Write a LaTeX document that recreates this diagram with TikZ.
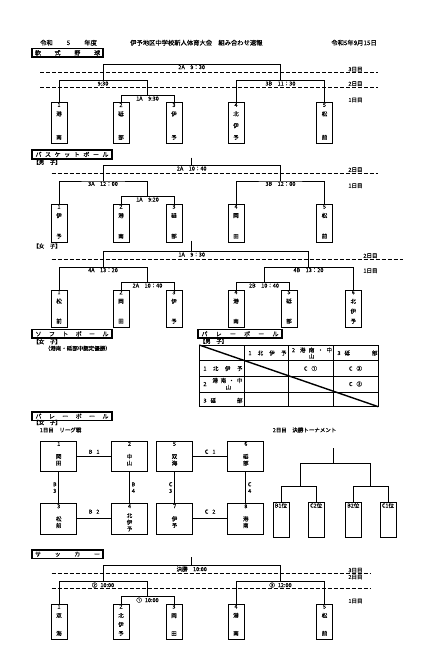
\documentclass[tikz,border=0pt]{standalone}
\usepackage{fontspec}
\setmainfont{Noto Sans CJK JP}[FakeBold=0.4]
\usepackage{tikz}
\usetikzlibrary{positioning}

\newcommand{\colgap}{\par\vfill}
\newcommand{\teamtext}[3]{\parbox[c][#1][t]{14pt}{\centering\vspace*{0.3pt}#2\par\vspace{2.4pt}#3\par\vspace{3.4pt}}}
\newcommand{\leaguetext}[3]{\parbox[c][#1][t]{32pt}{\centering\vspace*{0.8pt}#2\par\vfill #3\par\vfill}}
\newcommand{\spread}[2]{\makebox[#1][s]{#2}}

\tikzset{
  txt/.style={font=\fontsize{5.5}{6.6}\selectfont, inner sep=0.6pt},
  head/.style={font=\fontsize{6.3}{7}\selectfont, inner sep=0pt},
  titlebox/.style={draw, line width=1.5pt, inner sep=0pt, minimum height=8.6pt, font=\fontsize{6}{7}\selectfont},
  teambox/.style={draw, line width=1pt, minimum width=16pt, inner sep=0pt, font=\fontsize{5.5}{6.6}\selectfont},
  leaguebox/.style={draw, line width=1pt, minimum width=36pt, inner sep=0pt, font=\fontsize{5.5}{6.6}\selectfont},
  bracket/.style={line width=1pt},
  dayline/.style={line width=0.9pt, dash pattern=on 4pt off 2pt},
  tablegrid/.style={line width=0.9pt},
}

\begin{document}
\begin{tikzpicture}[x=1pt, y=-1pt]
\useasboundingbox (0,0) rectangle (423,656);

% header
\node[head, anchor=west] (year) at (40,42.7) {令和\hspace{14pt}5\hspace{14pt}年度};
\node[head, anchor=west] (meet) at (130,42.7) {伊予地区中学校新人体育大会　組み合わせ速報};
\node[head, anchor=east] (date) at (377,42.7) {令和5年9月15日};

% baseball
\node[titlebox, minimum width=71pt] (baseball) at (67.5,52.8) {\spread{65pt}{軟\hfill 式\hfill 野\hfill 球}};
\node[teambox] (y1) at (59,123) {\teamtext{40.6pt}{1}{港\colgap 南}};
\node[teambox] (y2) at (121,123) {\teamtext{40.6pt}{2}{砥\colgap 部}};
\node[teambox] (y3) at (174,123) {\teamtext{40.6pt}{3}{伊\colgap 予}};
\node[teambox] (y4) at (236,123) {\teamtext{40.6pt}{4}{北\colgap 伊\colgap 予}};
\node[teambox] (y5) at (324.5,123) {\teamtext{40.6pt}{5}{松\colgap 前}};
\coordinate (y1A) at (147.5,95.7);
\coordinate (y2L) at (103,80.7);
\coordinate (y2R) at (280.5,80.7);
\coordinate (yF) at (191.7,64.3);
\draw[bracket] (y2.north) |- (y1A) -| (y3.north);
\draw[bracket] (y1.north) |- (y2L) -| (y1A);
\draw[bracket] (y4.north) |- (y2R) -| (y5.north);
\draw[bracket] (y2L) |- (yF) -| (y2R);
\node[txt, below=0pt of yF] (yFt) {2A\quad 9：30};
\node[txt, below=0pt of y2L] (y2Lt) {9:30};
\node[txt, below=0pt of y1A] (y1At) {1A\quad 9:30};
\node[txt, below=0pt of y2R] (y2Rt) {3B\quad 11：30};
\draw[dayline] (40,72.3) -- (378,72.3);
\draw[dayline] (40,87.3) -- (378,87.3);
\node[txt] (yday3) at (355.5,69.3) {3日目};
\node[txt] (yday2) at (355.5,83.8) {2日目};
\node[txt] (yday1) at (355.5,100) {1日目};

% basketball, boys
\node[titlebox, minimum width=80pt] (basket) at (72,154.5) {\spread{73pt}{バ\hfill ス\hfill ケ\hfill ッ\hfill ト\hfill ボ\hfill ー\hfill ル}};
\node[txt, anchor=west] (bboys) at (32.5,162.3) {【男　子】};
\node[teambox] (b1) at (59,223.2) {\teamtext{37.7pt}{1}{伊\colgap 予}};
\node[teambox] (b2) at (121,223.2) {\teamtext{37.7pt}{2}{港\colgap 南}};
\node[teambox] (b3) at (174,223.2) {\teamtext{37.7pt}{3}{砥\colgap 部}};
\node[teambox] (b4) at (236,223.2) {\teamtext{37.7pt}{4}{岡\colgap 田}};
\node[teambox] (b5) at (324.5,223.2) {\teamtext{37.7pt}{5}{松\colgap 前}};
\coordinate (b1A) at (147.5,196.7);
\coordinate (b2L) at (103,181);
\coordinate (b2R) at (280.5,181);
\coordinate (bF) at (191.7,165.7);
\coordinate (bTop) at (191.7,157.7);
\draw[bracket] (b2.north) |- (b1A) -| (b3.north);
\draw[bracket] (b1.north) |- (b2L) -| (b1A);
\draw[bracket] (b4.north) |- (b2R) -| (b5.north);
\draw[bracket] (b2L) |- (bF) -| (b2R);
\draw[bracket] (bTop) -- (bF);
\node[txt, below=0pt of bF] (bFt) {2A\quad 10：40};
\node[txt, below=0pt of b2L] (b2Lt) {3A\quad 12：00};
\node[txt, below=0pt of b1A] (b1At) {1A\quad 9:20};
\node[txt, below=0pt of b2R] (b2Rt) {3B\quad 12：00};
\draw[dayline] (51.7,173.3) -- (378,173.3);
\node[txt] (bday2) at (355.5,169.8) {2日目};
\node[txt] (bday1) at (355.5,185.7) {1日目};

% basketball, girls
\node[txt, anchor=west] (bgirls) at (32.5,246) {【女　子】};
\node[teambox] (g1) at (59,308.5) {\teamtext{37pt}{1}{松\colgap 前}};
\node[teambox] (g2) at (121,308.5) {\teamtext{37pt}{2}{岡\colgap 田}};
\node[teambox] (g3) at (174,308.5) {\teamtext{37pt}{3}{伊\colgap 予}};
\node[teambox] (g4) at (236,308.5) {\teamtext{37pt}{4}{港\colgap 南}};
\node[teambox] (g5) at (289,308.5) {\teamtext{37pt}{5}{砥\colgap 部}};
\node[teambox] (g6) at (353.3,308.5) {\teamtext{37pt}{6}{北\colgap 伊\colgap 予}};
\coordinate (g1A) at (147.5,282.7);
\coordinate (g1B) at (264,282.7);
\coordinate (g2L) at (103,267.3);
\coordinate (g2R) at (308.5,267.3);
\coordinate (gF) at (191.7,251.7);
\coordinate (gTop) at (191.7,240.5);
\draw[bracket] (g2.north) |- (g1A) -| (g3.north);
\draw[bracket] (g4.north) |- (g1B) -| (g5.north);
\draw[bracket] (g1.north) |- (g2L) -| (g1A);
\draw[bracket] (g1B) |- (g2R) -| (g6.north);
\draw[bracket] (g2L) |- (gF) -| (g2R);
\draw[bracket] (gTop) -- (gF);
\node[txt, below=0pt of gF] (gFt) {1A\quad 9：30};
\node[txt, below=0pt of g2L] (g2Lt) {4A\quad 13：20};
\node[txt, below=0pt of g2R] (g2Rt) {4B\quad 13：20};
\node[txt, below=0pt of g1A] (g1At) {2A\quad 10：40};
\node[txt, below=0pt of g1B] (g1Bt) {2B\quad 10：40};
\draw[dayline] (51.7,259.3) -- (403,259.3);
\node[txt] (gday2) at (370.5,255.8) {2日目};
\node[txt] (gday1) at (370.5,270.7) {1日目};

% softball
\node[titlebox, minimum width=80pt] (softball) at (72,333.9) {\spread{73pt}{ソ\hfill フ\hfill ト\hfill ボ\hfill ー\hfill ル}};
\node[txt, anchor=west] (sgirls) at (32.5,341.7) {【女　子】};
\node[txt, anchor=west] (snote) at (44,348.3) {（港南・砥部中認定優勝）};

% volleyball, boys
\node[titlebox, minimum width=84pt] (volleyb) at (240,333.9) {\spread{77pt}{バ\hfill レ\hfill ー\hfill ボ\hfill ー\hfill ル}};
\node[txt, anchor=west] (vboys) at (199,341.3) {【男　子】};
\coordinate (tl) at (199.3,345);
\coordinate (br) at (378.3,406.7);
\draw[tablegrid] (tl) rectangle (br);
\draw[tablegrid] (244.3,345) -- (244.3,406.7);
\draw[tablegrid] (288.3,345) -- (288.3,406.7);
\draw[tablegrid] (333.5,345) -- (333.5,406.7);
\draw[tablegrid] (199.3,360.7) -- (378.3,360.7);
\draw[tablegrid] (199.3,376.7) -- (378.3,376.7);
\draw[tablegrid] (199.3,392.5) -- (378.3,392.5);
\draw[line width=1.4pt] (tl) -- (br);
\node[txt] (h1) at (267.5,353) {\spread{38pt}{1\hfill 北\hfill 伊\hfill 予}};
\node[txt] (h2) at (312,350) {\spread{40pt}{2\hspace{5pt}港\hfill 南\hfill ・\hfill 中}};
\node[txt] (h2b) at (311.7,356.3) {山};
\node[txt] (h3) at (357.5,353) {\spread{40pt}{3\hspace{4pt}砥\hfill 部}};
\node[txt] (r1) at (223,368.5) {\spread{39pt}{1\hfill 北\hfill 伊\hfill 予}};
\node[txt] (r2n) at (205,384) {2};
\node[txt] (r2) at (227.5,380.5) {\spread{30pt}{港\hfill 南\hfill ・\hfill 中}};
\node[txt] (r2b) at (228.3,387.3) {山};
\node[txt] (r3) at (223,400.5) {\spread{39pt}{3\hspace{4pt}砥\hfill 部}};
\node[txt] (c12) at (310.5,368.5) {C\hspace{4pt}①};
\node[txt] (c13) at (355.5,368.5) {C\hspace{4pt}③};
\node[txt] (c23) at (355.5,384) {C\hspace{4pt}②};

% volleyball, girls
\node[titlebox, minimum width=80pt] (volleyg) at (72,416.2) {\spread{73pt}{バ\hfill レ\hfill ー\hfill ボ\hfill ー\hfill ル}};
\node[txt, anchor=west] (vgirls) at (32.5,422.5) {【女　子】};
\node[txt, anchor=west] (vday1) at (39,430) {1日目　リーグ戦};
\node[txt, anchor=west] (vday2) at (272,430) {2日目　決勝トーナメント};
\node[leaguebox] (v1) at (58.7,456.4) {\leaguetext{30.7pt}{1}{岡\\田}};
\node[leaguebox] (v2) at (129.5,456.4) {\leaguetext{30.7pt}{2}{中\\山}};
\node[leaguebox] (v5) at (174.5,456.4) {\leaguetext{30.7pt}{5}{双\\海}};
\node[leaguebox] (v6) at (245.8,456.4) {\leaguetext{30.7pt}{6}{砥\\部}};
\node[leaguebox] (v3) at (58.7,518.8) {\leaguetext{30.7pt}{3}{松\\前}};
\node[leaguebox] (v4) at (129.5,518.8) {\leaguetext{30.7pt}{4}{北\\伊\\予}};
\node[leaguebox] (v7) at (174.5,518.8) {\leaguetext{30.7pt}{7}{伊\\予}};
\node[leaguebox] (v8) at (245.8,518.8) {\leaguetext{30.7pt}{8}{港\\南}};
\draw[bracket] (v1) -- node[txt, above=1.5pt] (vB1) {B\hspace{4pt}1} (v2);
\draw[bracket] (v3) -- node[txt, above=4pt] (vB2) {B\hspace{4pt}2} (v4);
\draw[bracket] (v1) -- node[txt, left=1pt, align=center] (vB3) {B\\3} (v3);
\draw[bracket] (v2) -- node[txt, right=1pt, align=center] (vB4) {B\\4} (v4);
\draw[bracket] (v5) -- node[txt, above=1.5pt] (vC1) {C\hspace{4pt}1} (v6);
\draw[bracket] (v7) -- node[txt, above=4pt] (vC2) {C\hspace{4pt}2} (v8);
\draw[bracket] (v5) -- node[txt, left=1pt, align=center] (vC3) {C\\3} (v7);
\draw[bracket] (v6) -- node[txt, right=1pt, align=center] (vC4) {C\\4} (v8);
\node[teambox, minimum height=35.3pt, label={[txt, anchor=north]north:B1位}] (f1) at (281,520.3) {};
\node[teambox, minimum height=35.3pt, label={[txt, anchor=north]north:C2位}] (f2) at (316.2,520.3) {};
\node[teambox, minimum height=35.3pt, label={[txt, anchor=north]north:B2位}] (f3) at (353.3,520.3) {};
\node[teambox, minimum height=35.3pt, label={[txt, anchor=north]north:C1位}] (f4) at (388,520.3) {};
\coordinate (fL) at (300.7,486.7);
\coordinate (fR) at (370,486.7);
\coordinate (fF) at (333.3,463.3);
\coordinate (fTop) at (333.3,448.3);
\draw[bracket] (f1.north) |- (fL) -| (f2.north);
\draw[bracket] (f3.north) |- (fR) -| (f4.north);
\draw[bracket] (fL) |- (fF) -| (fR);
\draw[bracket] (fTop) -- (fF);

% soccer
\node[titlebox, minimum width=71pt] (soccer) at (67.5,554.2) {\spread{65pt}{サ\hfill ッ\hfill カ\hfill ー}};
\node[teambox] (s1) at (59,621.8) {\teamtext{35pt}{1}{双\colgap 海}};
\node[teambox] (s2) at (121,621.8) {\teamtext{35pt}{2}{北\colgap 伊\colgap 予}};
\node[teambox] (s3) at (174,621.8) {\teamtext{35pt}{3}{岡\colgap 田}};
\node[teambox] (s4) at (236,621.8) {\teamtext{35pt}{4}{港\colgap 南}};
\node[teambox] (s5) at (324.5,621.8) {\teamtext{35pt}{5}{松\colgap 前}};
\coordinate (s1A) at (147.5,596.7);
\coordinate (s2L) at (103,581.7);
\coordinate (s2R) at (280.5,581.7);
\coordinate (sF) at (191.7,565.7);
\coordinate (sTop) at (191.7,557.3);
\draw[bracket] (s2.north) |- (s1A) -| (s3.north);
\draw[bracket] (s1.north) |- (s2L) -| (s1A);
\draw[bracket] (s4.north) |- (s2R) -| (s5.north);
\draw[bracket] (s2L) |- (sF) -| (s2R);
\draw[bracket] (sTop) -- (sF);
\node[txt, below=0pt of sF] (sFt) {決勝\quad 10:00};
\node[txt, below=0pt of s2L] (s2Lt) {②\hspace{3pt}10:00};
\node[txt, below=0pt of s1A] (s1At) {①\hspace{3pt}10:00};
\node[txt, below=0pt of s2R] (s2Rt) {③\hspace{3pt}12:00};
\draw[dayline] (51.7,573.3) -- (370,573.3);
\draw[dayline] (51.7,588.3) -- (370,588.3);
\node[txt] (sday3) at (355.5,570.3) {3日目};
\node[txt] (sday2) at (355.5,577) {2日目};
\node[txt] (sday1) at (355.5,601) {1日目};
\end{tikzpicture}
\end{document}
